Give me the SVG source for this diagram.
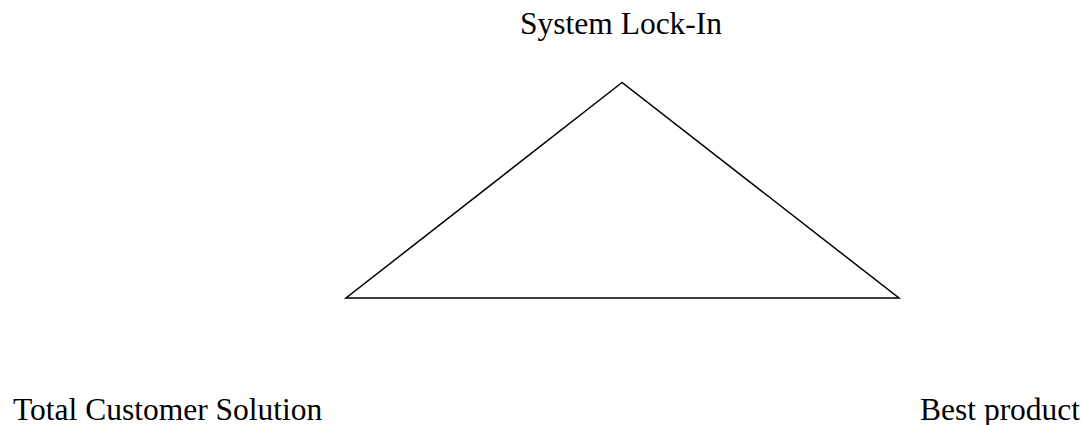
<svg xmlns="http://www.w3.org/2000/svg" width="1082" height="425" viewBox="0 0 1082 425">
<style>
.lbl{font-family:"Liberation Serif","Times New Roman",serif;font-size:31.5px;fill:#000}
.edge{fill:none;stroke:#000;stroke-width:1.5;stroke-linejoin:miter}
</style>
<rect width="1082" height="425" fill="#fff"/>
<g id="connectors">
<path class="edge" d="M622,82.5 L346,298 L899,298 Z"/>
</g>
<g id="node-lockin"><text class="lbl" x="520" y="34">System Lock-In</text></g>
<g id="node-total"><text class="lbl" x="13" y="420">Total Customer Solution</text></g>
<g id="node-best"><text class="lbl" x="920" y="420">Best product</text></g>
</svg>
